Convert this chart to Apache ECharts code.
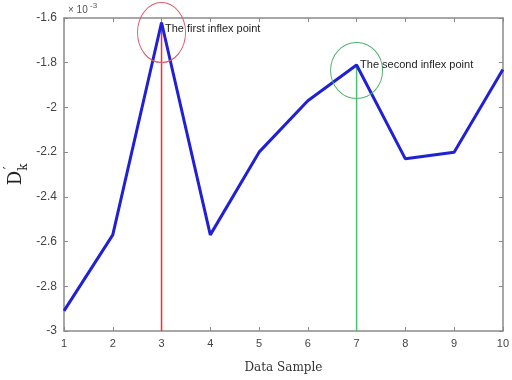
<!DOCTYPE html>
<html>
<head>
<meta charset="utf-8">
<script src="https://cdn.jsdelivr.net/npm/echarts@6/dist/echarts.min.js"></script>
<style>
  html, body { margin: 0; padding: 0; background: #fff; }
  #chart { width: 512px; height: 380px; }
</style>
</head>
<body>
<div id="chart"></div>
<script>
// data samples and D'k values (x 10^-3)
const samples = [1, 2, 3, 4, 5, 6, 7, 8, 9, 10];
const dk = [-2.91, -2.57, -1.62, -2.57, -2.20, -1.97, -1.81, -2.23, -2.20, -1.83];
const yTicks = { min: -3, max: -1.6, step: 0.2 };
const inflexPoints = [
    { x: 3, text: 'The first inflex point', color: '#ff2a2a', ring: '#d85a6a' },
    { x: 7, text: 'The second inflex point', color: '#4cc070', ring: '#50b070' }
];

const axisGray = '#8a8a8a';
const seriesData = samples.map((s, i) => [s, dk[i]]);
const valueAt = (x) => dk[samples.indexOf(x)];

const baseX = {
    type: 'value', min: 1, max: 10, interval: 1,
    axisLine: { show: true, lineStyle: { color: axisGray, width: 1.5 } },
    axisTick: { show: true, inside: true, length: 4, lineStyle: { color: axisGray } },
    splitLine: { show: false }
};
const baseY = {
    type: 'value', min: yTicks.min, max: yTicks.max, interval: yTicks.step,
    axisLine: { show: true, lineStyle: { color: axisGray, width: 1.5 } },
    axisTick: { show: true, inside: true, length: 4, lineStyle: { color: axisGray } },
    splitLine: { show: false }
};

// vertical guide lines from the x axis up to each inflex point
const guideSeries = inflexPoints.map(p => ({
    type: 'line',
    data: [[p.x, yTicks.min], [p.x, valueAt(p.x)]],
    symbol: 'none',
    silent: true,
    lineStyle: { color: p.color, width: 1.5 },
    z: 2
}));

const chart = echarts.init(document.getElementById('chart'));
chart.setOption({
    animation: false,
    backgroundColor: '#fff',
    grid: { left: 64, right: 4, top: 18, bottom: 49 },
    xAxis: [
        {
            ...baseX,
            position: 'bottom',
            axisLabel: { color: '#444', fontFamily: 'Arial', fontSize: 11, margin: 7, showMinLabel: true, showMaxLabel: true },
            name: 'Data Sample',
            nameLocation: 'middle',
            nameGap: 31,
            nameTextStyle: { color: '#333', fontFamily: 'DejaVu Serif', fontSize: 12 }
        },
        { ...baseX, position: 'top', axisLabel: { show: false } }
    ],
    yAxis: [
        {
            ...baseY,
            position: 'left',
            axisLabel: {
                color: '#444', fontFamily: 'Arial', fontSize: 12, margin: 7,
                showMinLabel: true, showMaxLabel: true,
                formatter: (v) => String(Math.round(v * 10) / 10)
            }
        },
        { ...baseY, position: 'right', axisLabel: { show: false } }
    ],
    graphic: [
        { type: 'text', x: 68, y: 10, style: { text: '× 10', fontSize: 10, fontFamily: 'Arial', fill: '#555', textVerticalAlign: 'middle' } },
        { type: 'text', x: 90, y: 6, style: { text: '-3', fontSize: 8, fontFamily: 'Arial', fill: '#555', textVerticalAlign: 'middle' } },
        { type: 'text', x: 16, y: 178, rotation: Math.PI / 2, style: { text: 'D', fontSize: 18, fontFamily: 'DejaVu Serif', fill: '#222', textAlign: 'center', textVerticalAlign: 'middle' } },
        { type: 'text', x: 10, y: 168, rotation: Math.PI / 2, style: { text: '\u2032', fontSize: 12, fontFamily: 'DejaVu Serif', fill: '#222', textAlign: 'center', textVerticalAlign: 'middle' } },
        { type: 'text', x: 24, y: 167, rotation: Math.PI / 2, style: { text: 'k', fontSize: 12, fontFamily: 'DejaVu Serif', fill: '#222', textAlign: 'center', textVerticalAlign: 'middle' } }
    ],
    series: [
        ...guideSeries,
        {
            type: 'line',
            data: seriesData,
            symbol: 'none',
            lineStyle: { color: '#2020d4', width: 3 },
            z: 3,
            markPoint: {
                silent: true,
                data: [
                    ...inflexPoints.map((p, i) => ({
                        coord: [p.x, valueAt(p.x) - (i === 0 ? 0.045 : 0.025)],
                        symbol: 'circle',
                        symbolSize: i === 0 ? [48, 60] : [52, 56],
                        itemStyle: { color: 'rgba(0,0,0,0)', borderColor: p.ring, borderWidth: 1 },
                        label: { show: false }
                    })),
                    ...inflexPoints.map((p, i) => ({
                        coord: [p.x, valueAt(p.x) - (i === 0 ? 0.03 : 0.0)],
                        symbol: 'circle',
                        symbolSize: 1,
                        itemStyle: { color: 'rgba(0,0,0,0)' },
                        label: {
                            show: true, position: 'right', distance: 3,
                            formatter: p.text, color: '#222', fontFamily: 'Arial', fontSize: 11
                        }
                    }))
                ]
            }
        }
    ]
});
</script>
</body>
</html>
